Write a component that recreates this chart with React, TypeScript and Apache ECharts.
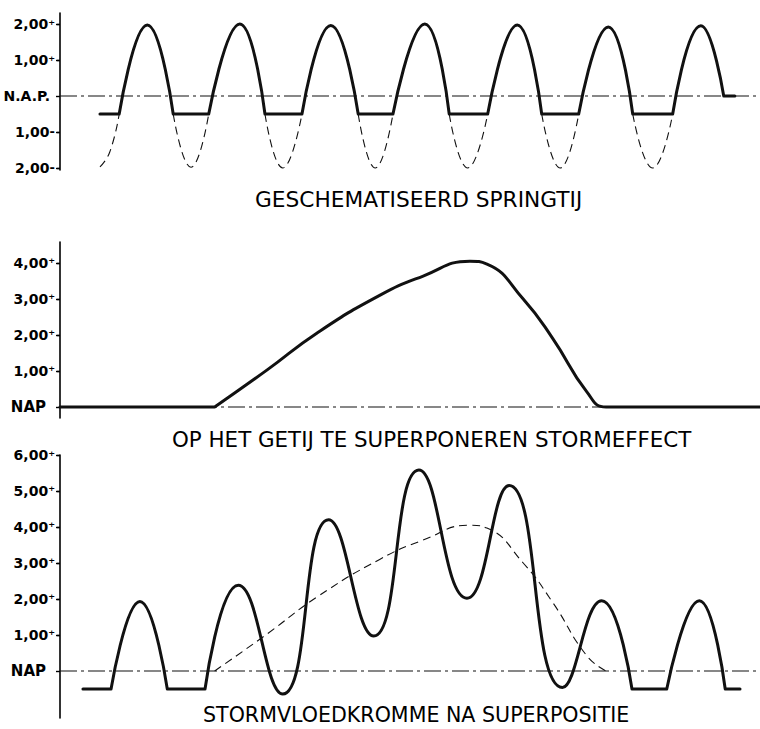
import React, { useEffect, useRef } from "react";
import * as echarts from "echarts";

// Time axis in hours (shared by the three panels), water levels in metres relative to NAP.
const X_MAX = 94.6;

// Panel 1: schematised spring tide. Solid = level kept above the low-water stand,
// each inner list is one stroke of the pen.
const springTideSolid: number[][][] = [
  [[5.4, -0.5], [8.0, -0.5]],
  [[8.0, -0.5], [11.8, 1.97], [15.3, -0.5]],
  [[15.3, -0.5], [20.1, -0.5]],
  [[20.1, -0.5], [24.3, 2.0], [27.7, -0.5]],
  [[27.7, -0.5], [32.7, -0.5]],
  [[32.7, -0.5], [36.6, 1.96], [40.3, -0.5]],
  [[40.3, -0.5], [45.0, -0.5]],
  [[45.0, -0.5], [49.3, 2.0], [52.6, -0.5]],
  [[52.6, -0.5], [57.8, -0.5]],
  [[57.8, -0.5], [61.8, 1.97], [65.1, -0.5]],
  [[65.1, -0.5], [70.1, -0.5]],
  [[70.1, -0.5], [74.1, 1.92], [77.4, -0.5]],
  [[77.4, -0.5], [82.8, -0.5]],
  [[82.8, -0.5], [86.6, 1.95], [89.7, 0]],
  [[89.7, 0], [91.2, 0]],
];

// Panel 1: undisturbed low waters (dashed)
const springTideLow: number[][][] = [
  [[5.4, -1.97], [6.7, -1.57], [8.0, -0.5]],
  [[15.3, -0.5], [17.7, -1.98], [20.1, -0.5]],
  [[27.7, -0.5], [30.1, -2.0], [32.7, -0.5]],
  [[40.3, -0.5], [42.6, -2.0], [45.0, -0.5]],
  [[52.6, -0.5], [55.1, -2.0], [57.8, -0.5]],
  [[65.1, -0.5], [67.6, -2.0], [70.1, -0.5]],
  [[77.4, -0.5], [80.1, -2.0], [82.8, -0.5]],
];

// Panel 2 (and dashed in panel 3): storm effect to be superimposed on the tide
const stormStart = 20.9;
const stormSurge: number[][] = [
  [20.9, 0], [28.0, 1.03], [34.7, 2.05], [43.2, 3.1], [49.0, 3.63],
  [55.4, 4.05], [57.7, 3.97], [62.6, 3.0], [66.6, 1.9], [71.2, 0.42], [73.8, 0],
];

// Panel 3: storm-surge curve after superposition
const stormTide: number[][][] = [
  [[3.1, -0.5], [6.9, -0.5]],
  [[6.9, -0.5], [10.8, 1.93], [14.5, -0.5]],
  [[14.5, -0.5], [19.6, -0.5]],
  [
    [19.6, -0.5], [24.1, 2.38], [30.1, -0.64], [36.3, 4.2], [42.4, 0.97], [48.5, 5.58],
    [55.0, 2.02], [60.7, 5.15], [67.9, -0.46], [73.2, 1.95], [77.3, -0.5],
  ],
  [[77.3, -0.5], [82.0, -0.5]],
  [[82.0, -0.5], [86.4, 1.95], [89.9, -0.5]],
  [[89.9, -0.5], [91.9, -0.5]],
];

const panel1Ticks = [-2, -1, 0, 1, 2];
const panel2Ticks = [0, 1, 2, 3, 4];
const panel3Ticks = [0, 1, 2, 3, 4, 5, 6];

const captions = [
  "GESCHEMATISEERD SPRINGTĲ",
  "OP HET GETĲ TE SUPERPONEREN STORMEFFECT",
  "STORMVLOEDKROMME NA SUPERPOSITIE",
];

const FONT = '"DejaVu Sans", sans-serif';
const INK = "#111";

// Pen strokes become one series, broken by empty points so corners stay sharp.
const joinStrokes = (strokes: number[][][]) => {
  const out: (number | string)[][] = [];
  strokes.forEach((s, i) => {
    if (i > 0) out.push([s[0][0], "-"]);
    s.forEach((p) => out.push(p));
  });
  return out;
};

const levelLabel = (napText: string) => (v: number) => {
  if (v === 0) return `{nap|${napText}}`;
  const txt = `${Math.abs(v)},00`;
  return v > 0 ? `{n|${txt}}{p|⁺}` : `{n|${txt}}{m|-}`;
};

const makeYAxis = (
  gridIndex: number,
  min: number,
  max: number,
  ticks: number[],
  napText: string,
  napSize: number,
  napGap: number
) => ({
  type: "value",
  gridIndex,
  min,
  max,
  splitLine: { show: false },
  axisLine: { show: true, onZero: false, lineStyle: { color: "#000", width: 1.6 } },
  axisTick: {
    show: true,
    customValues: ticks,
    length: 4,
    lineStyle: { color: "#000", width: 1.4 },
  },
  axisLabel: {
    customValues: ticks,
    margin: 5,
    formatter: levelLabel(napText),
    rich: {
      n: { fontFamily: FONT, fontWeight: "bold", fontSize: 14, color: "#000" },
      p: { fontFamily: FONT, fontWeight: "bold", fontSize: 13, color: "#000" },
      m: { fontFamily: FONT, fontWeight: "bold", fontSize: 13, color: "#000" },
      nap: {
        fontFamily: FONT,
        fontWeight: "bold",
        fontSize: napSize,
        color: "#000",
        padding: [0, napGap, 0, 0],
      },
    },
  },
});

// Second axis on each panel: only the inner half of the cross-shaped level marks.
const innerTicks = (gridIndex: number, min: number, max: number, ticks: number[]) => ({
  type: "value",
  gridIndex,
  min,
  max,
  splitLine: { show: false },
  axisLine: { show: false },
  axisLabel: { show: false },
  axisTick: {
    show: true,
    inside: true,
    customValues: ticks.filter((t) => t !== 0),
    length: 3,
    lineStyle: { color: "#000", width: 1.4 },
  },
});

const napLine = (idx: number) => ({
  type: "line",
  xAxisIndex: idx,
  yAxisIndex: idx,
  data: [[0, 0], [X_MAX, 0]],
  symbol: "none",
  silent: true,
  lineStyle: { color: INK, width: 1.2, type: [17, 4, 3, 4] },
  z: 1,
});

const solid = (idx: number, data: any[], smooth: number | boolean = true) => ({
  type: "line",
  xAxisIndex: idx,
  yAxisIndex: idx,
  data,
  smooth,
  symbol: "none",
  silent: true,
  connectNulls: false,
  lineStyle: { color: INK, width: 3, cap: "round", join: "round" },
  z: 3,
});

const dashed = (idx: number, data: any[], smooth: number | boolean = true) => ({
  type: "line",
  xAxisIndex: idx,
  yAxisIndex: idx,
  data,
  smooth,
  symbol: "none",
  silent: true,
  connectNulls: false,
  lineStyle: { color: INK, width: 1.1, type: [8, 5] },
  z: 2,
});

export default function App() {
  const ref = useRef<HTMLDivElement>(null);

  useEffect(() => {
    if (!ref.current) return;
    const chart = echarts.init(ref.current, undefined, { renderer: "svg" });

    const grids = [
      { left: 60, right: 0, top: 13, height: 157 },
      { left: 60, right: 0, top: 242, height: 176 },
      { left: 60, right: 0, top: 455, height: 263 },
    ];
    const ranges = [
      [-2.056, 2.306],
      [-0.306, 4.583],
      [-1.306, 6.0],
    ];
    const tickSets = [panel1Ticks, panel2Ticks, panel3Ticks];

    // Panel 2: calm NAP level, then the storm effect, then calm again
    const stormPanel = joinStrokes([
      [[0, 0], [stormStart, 0]],
      [...stormSurge, [X_MAX, 0]],
    ]);

    chart.setOption({
      animation: false,
      backgroundColor: "#fff",
      grid: grids,
      xAxis: grids.map((_, i) => ({
        type: "value",
        gridIndex: i,
        min: 0,
        max: X_MAX,
        show: false,
      })),
      yAxis: [
        makeYAxis(0, ranges[0][0], ranges[0][1], panel1Ticks, "N.A.P.", 14, 5),
        makeYAxis(1, ranges[1][0], ranges[1][1], panel2Ticks, "NAP", 15, 9),
        makeYAxis(2, ranges[2][0], ranges[2][1], panel3Ticks, "NAP", 15, 9),
        ...tickSets.map((t, i) => innerTicks(i, ranges[i][0], ranges[i][1], t)),
      ],
      series: [
        napLine(0),
        dashed(0, joinStrokes(springTideLow)),
        solid(0, joinStrokes(springTideSolid)),
        napLine(1),
        solid(1, stormPanel, 0.5),
        napLine(2),
        dashed(2, stormSurge, 0.5),
        solid(2, joinStrokes(stormTide)),
      ],
      graphic: [
        { type: "text", left: 255, top: 188, style: { text: captions[0], font: `21.7px ${FONT}`, fill: "#000" } },
        { type: "text", left: 172, top: 429, style: { text: captions[1], font: `21.4px ${FONT}`, fill: "#000" } },
        { type: "text", left: 203, top: 704.5, style: { text: captions[2], font: `20.6px ${FONT}`, fill: "#000" } },
      ],
    });

    return () => chart.dispose();
  }, []);

  return (
    <div
      ref={ref}
      style={{ position: "fixed", left: 0, top: 0, width: 760, height: 729, background: "#fff" }}
    />
  );
}
